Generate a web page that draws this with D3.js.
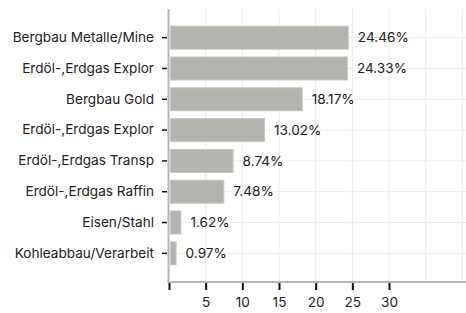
<!DOCTYPE html>
<html><head><meta charset="utf-8">
<script src="https://cdn.jsdelivr.net/npm/d3@7"></script>
<style>body{margin:0;background:#fff;} text{font-family:Inter,"Noto Sans",sans-serif;}</style>
</head><body>
<svg id="c" width="466" height="313"></svg>
<script>
const categories = ["Bergbau Metalle/Mine","Erdöl-,Erdgas Explor","Bergbau Gold","Erdöl-,Erdgas Explor ","Erdöl-,Erdgas Transp","Erdöl-,Erdgas Raffin","Eisen/Stahl","Kohleabbau/Verarbeit"];
const values = [24.46,24.33,18.17,13.02,8.74,7.48,1.62,0.97];
const tickValues = [0,5,10,15,20,25,30];
const gridValues = [5,10,15,20,25,30,35,40];

const svg = d3.select("#c");
const mLeft = 169, mRight = 466, mTop = 9, mBottom = 282;
const fs = 13.6;
const x = d3.scaleLinear().domain([0,40.5]).range([mLeft,mRight]);
const y = d3.scaleBand().domain(categories).range([mTop,mBottom]).paddingInner(0.22).paddingOuter(0.54);

// grid
svg.append("g").selectAll("line").data(gridValues).join("line")
  .attr("x1",d=>x(d)).attr("x2",d=>x(d)).attr("y1",mTop).attr("y2",mBottom)
  .attr("stroke","#ebebeb").attr("stroke-width",1);
svg.append("g").selectAll("line").data(categories).join("line")
  .attr("x1",mLeft).attr("x2",mRight).attr("y1",d=>y(d)+y.bandwidth()/2).attr("y2",d=>y(d)+y.bandwidth()/2)
  .attr("stroke","#ebebeb").attr("stroke-width",1);

// bars
svg.append("g").selectAll("rect").data(values).join("rect")
  .attr("x",x(0)+1.5).attr("y",(d,i)=>y(categories[i])+0.5)
  .attr("width",d=>x(d)-x(0)-1.5).attr("height",y.bandwidth()-1)
  .attr("fill","#b4b3ae").attr("stroke","#c9c8c4").attr("stroke-width",1);

// value labels
svg.append("g").selectAll("text").data(values).join("text")
  .attr("x",d=>x(d)+9.5).attr("y",(d,i)=>y(categories[i])+y.bandwidth()/2)
  .attr("dy","0.35em").attr("font-size",fs).attr("fill","#222")
  .text(d=>d.toFixed(2)+"%");

// y axis
const ya = svg.append("g").attr("transform",`translate(${mLeft},0)`)
  .call(d3.axisLeft(y).tickSize(6).tickPadding(9));
ya.select(".domain").remove();
ya.selectAll(".tick line").attr("stroke","#111").attr("stroke-width",1.5).attr("x2",-2).attr("x1",-7);
ya.selectAll(".tick text").attr("font-size",fs).attr("fill","#222").attr("font-family","Inter,'Noto Sans',sans-serif").text(d=>d.trim());
svg.append("line").attr("x1",mLeft-0.5).attr("x2",mLeft-0.5).attr("y1",mTop).attr("y2",mBottom)
  .attr("stroke","#b5b5b5").attr("stroke-width",2);

// x axis
const xa = svg.append("g").attr("transform",`translate(0,${mBottom})`)
  .call(d3.axisBottom(x).tickValues(tickValues).tickSize(8).tickPadding(7).tickFormat(d=>d===0?"":d));
xa.select(".domain").remove();
xa.selectAll(".tick line").attr("stroke","#111").attr("stroke-width",2);
xa.selectAll(".tick text").attr("font-size",fs).attr("fill","#222").attr("font-family","Inter,'Noto Sans',sans-serif");
svg.append("line").attr("x1",mLeft-1.5).attr("x2",mRight).attr("y1",mBottom).attr("y2",mBottom)
  .attr("stroke","#b5b5b5").attr("stroke-width",2);
</script>
</body></html>
